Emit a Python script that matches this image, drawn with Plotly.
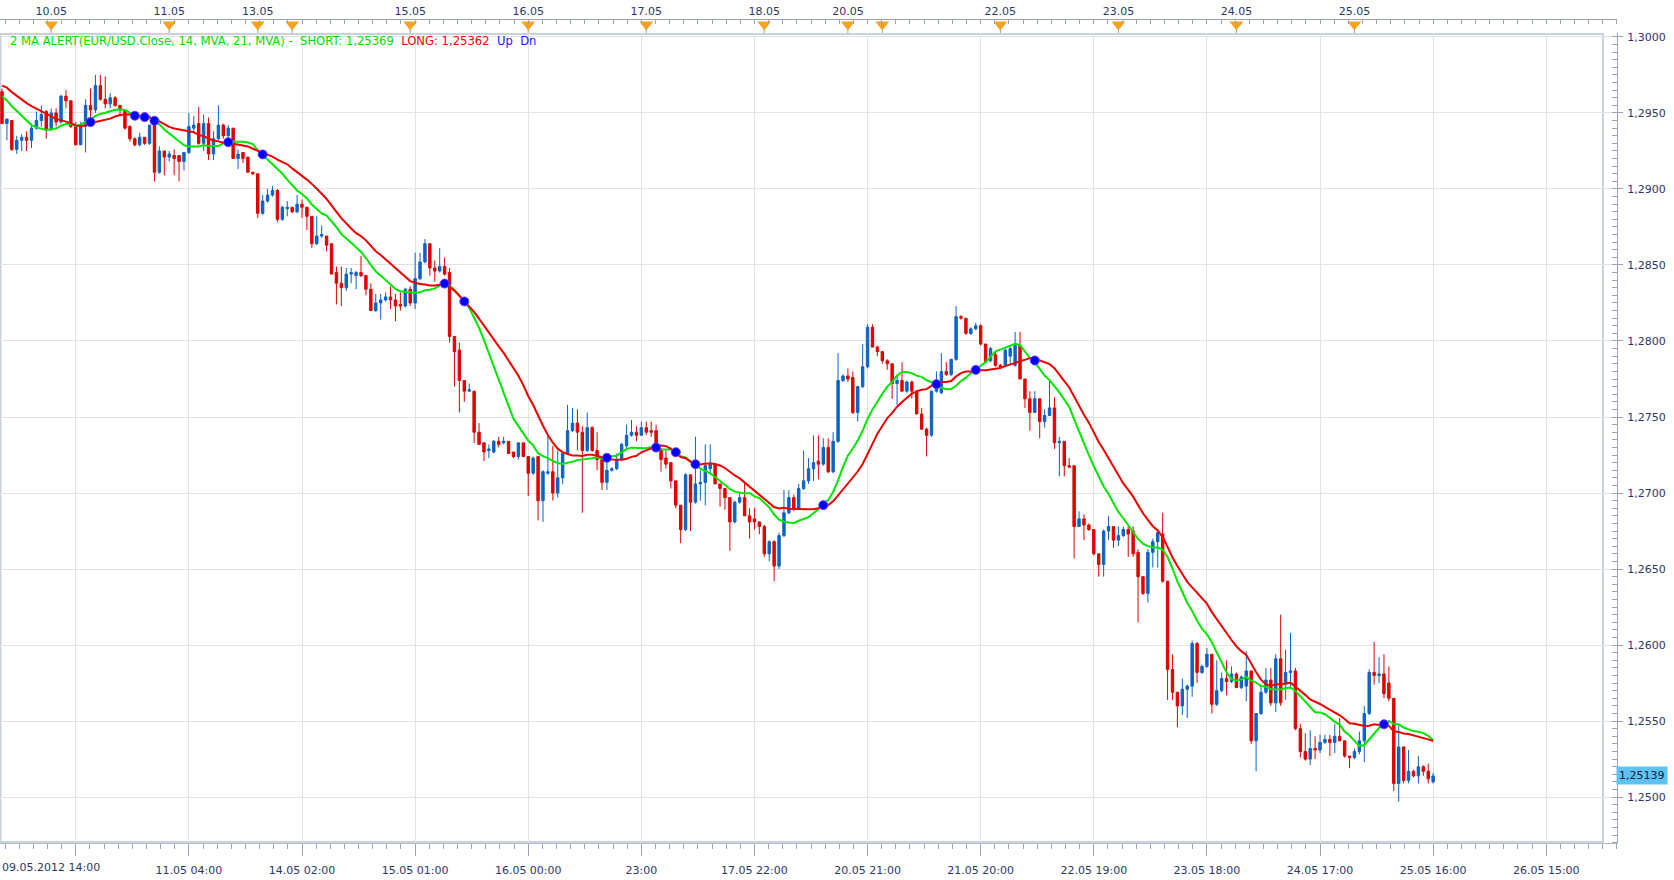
import pandas as pd
import plotly.graph_objects as go

# ---------------- data (EUR/USD hourly) ----------------
OPEN = [
 1.2964,1.2943,1.2945,1.2926,1.2932,1.2934,1.2932,1.2940,1.2945,1.2951,
 1.2939,1.2950,1.2944,1.2961,1.2958,1.2941,1.2929,1.2941,1.2955,1.2952,
 1.2968,1.2959,1.2956,1.2960,1.2955,1.2951,1.2941,1.2933,1.2929,1.2934,
 1.2930,1.2942,1.2911,1.2925,1.2921,1.2922,1.2922,1.2918,1.2924,1.2940,
 1.2943,1.2930,1.2943,1.2923,1.2933,1.2942,1.2935,1.2940,1.2920,1.2924,
 1.2921,1.2911,1.2910,1.2884,1.2892,1.2896,1.2899,1.2880,1.2887,1.2888,
 1.2885,1.2890,1.2888,1.2882,1.2864,1.2869,1.2869,1.2864,1.2845,1.2838,
 1.2835,1.2844,1.2843,1.2845,1.2843,1.2834,1.2820,1.2825,1.2827,1.2829,
 1.2827,1.2824,1.2823,1.2834,1.2825,1.2841,1.2852,1.2864,1.2848,1.2846,
 1.2849,1.2845,1.2803,1.2794,1.2774,1.2767,1.2767,1.2740,1.2733,1.2728,
 1.2727,1.2734,1.2733,1.2734,1.2727,1.2724,1.2733,1.2724,1.2713,1.2724,
 1.2695,1.2713,1.2714,1.2700,1.2710,1.2726,1.2741,1.2746,1.2740,1.2728,
 1.2743,1.2728,1.2722,1.2707,1.2715,1.2716,1.2722,1.2731,1.2738,1.2740,
 1.2738,1.2743,1.2741,1.2741,1.2729,1.2723,1.2720,1.2708,1.2692,1.2676,
 1.2712,1.2694,1.2706,1.2707,1.2716,1.2719,1.2706,1.2703,1.2697,1.2681,
 1.2694,1.2697,1.2685,1.2683,1.2681,1.2678,1.2660,1.2668,1.2652,1.2672,
 1.2687,1.2697,1.2690,1.2703,1.2708,1.2716,1.2721,1.2719,1.2730,1.2714,
 1.2734,1.2774,1.2777,1.2776,1.2753,1.2770,1.2783,1.2809,1.2796,1.2793,
 1.2787,1.2785,1.2772,1.2774,1.2767,1.2773,1.2767,1.2752,1.2742,1.2738,
 1.2767,1.2766,1.2780,1.2778,1.2788,1.2816,1.2815,1.2805,1.2808,1.2810,
 1.2798,1.2787,1.2791,1.2784,1.2784,1.2790,1.2784,1.2797,1.2775,1.2762,
 1.2753,1.2762,1.2747,1.2751,1.2756,1.2733,1.2734,1.2718,1.2718,1.2678,
 1.2683,1.2679,1.2676,1.2660,1.2653,1.2675,1.2678,1.2669,1.2672,1.2676,
 1.2675,1.2661,1.2645,1.2634,1.2661,1.2668,1.2673,1.2642,1.2584,1.2569,
 1.2560,1.2571,1.2573,1.2601,1.2582,1.2586,1.2594,1.2561,1.2570,1.2578,
 1.2576,1.2581,1.2572,1.2573,1.2583,1.2537,1.2555,1.2569,1.2577,1.2562,
 1.2591,1.2574,1.2582,1.2583,1.2545,1.2530,1.2525,1.2532,1.2531,1.2536,
 1.2538,1.2536,1.2540,1.2537,1.2527,1.2526,1.2530,1.2537,1.2555,1.2582,
 1.2580,1.2581,1.2575,1.2565,1.2509,1.2533,1.2511,1.2517,1.2514,1.2520,
 1.2517,1.2510,
]
HIGH = [
 1.2966,1.2946,1.2945,1.2935,1.2936,1.2938,1.2943,1.2951,1.2955,1.2952,
 1.2953,1.2953,1.2962,1.2965,1.2958,1.2944,1.2944,1.2959,1.2966,1.2975,
 1.2975,1.2974,1.2963,1.2961,1.2955,1.2952,1.2942,1.2934,1.2937,1.2934,
 1.2942,1.2942,1.2928,1.2925,1.2925,1.2926,1.2922,1.2924,1.2950,1.2948,
 1.2954,1.2949,1.2947,1.2938,1.2955,1.2943,1.2942,1.2940,1.2926,1.2924,
 1.2921,1.2911,1.2910,1.2896,1.2900,1.2902,1.2900,1.2889,1.2892,1.2888,
 1.2896,1.2893,1.2888,1.2882,1.2882,1.2876,1.2869,1.2864,1.2849,1.2849,
 1.2848,1.2848,1.2846,1.2856,1.2843,1.2838,1.2831,1.2831,1.2832,1.2836,
 1.2831,1.2832,1.2835,1.2836,1.2858,1.2858,1.2867,1.2864,1.2853,1.2861,
 1.2855,1.2848,1.2803,1.2799,1.2774,1.2772,1.2767,1.2746,1.2733,1.2732,
 1.2735,1.2737,1.2737,1.2734,1.2727,1.2733,1.2733,1.2724,1.2724,1.2724,
 1.2715,1.2738,1.2731,1.2728,1.2726,1.2758,1.2756,1.2755,1.2744,1.2753,
 1.2744,1.2740,1.2722,1.2722,1.2717,1.2726,1.2733,1.2745,1.2748,1.2744,
 1.2747,1.2747,1.2747,1.2745,1.2729,1.2728,1.2720,1.2708,1.2692,1.2713,
 1.2712,1.2737,1.2715,1.2732,1.2732,1.2719,1.2706,1.2703,1.2697,1.2695,
 1.2700,1.2707,1.2690,1.2690,1.2681,1.2679,1.2669,1.2669,1.2674,1.2702,
 1.2702,1.2699,1.2706,1.2728,1.2723,1.2738,1.2738,1.2736,1.2736,1.2740,
 1.2792,1.2778,1.2782,1.2780,1.2770,1.2798,1.2811,1.2811,1.2797,1.2793,
 1.2788,1.2785,1.2777,1.2786,1.2774,1.2774,1.2768,1.2756,1.2743,1.2767,
 1.2780,1.2792,1.2786,1.2788,1.2823,1.2817,1.2815,1.2809,1.2812,1.2811,
 1.2798,1.2796,1.2793,1.2785,1.2795,1.2797,1.2806,1.2806,1.2775,1.2767,
 1.2767,1.2762,1.2755,1.2775,1.2763,1.2737,1.2734,1.2723,1.2718,1.2688,
 1.2686,1.2680,1.2676,1.2660,1.2676,1.2685,1.2678,1.2678,1.2678,1.2678,
 1.2678,1.2663,1.2645,1.2663,1.2670,1.2676,1.2687,1.2642,1.2594,1.2569,
 1.2578,1.2574,1.2603,1.2602,1.2587,1.2598,1.2594,1.2590,1.2582,1.2590,
 1.2586,1.2582,1.2580,1.2596,1.2583,1.2555,1.2573,1.2585,1.2585,1.2594,
 1.2620,1.2597,1.2608,1.2585,1.2548,1.2542,1.2544,1.2540,1.2541,1.2541,
 1.2541,1.2548,1.2552,1.2537,1.2527,1.2532,1.2543,1.2560,1.2584,1.2602,
 1.2592,1.2594,1.2586,1.2565,1.2547,1.2533,1.2531,1.2518,1.2527,1.2521,
 1.2522,1.2516,
]
LOW = [
 1.2943,1.2932,1.2925,1.2923,1.2925,1.2925,1.2927,1.2939,1.2941,1.2933,
 1.2938,1.2941,1.2943,1.2953,1.2940,1.2929,1.2929,1.2924,1.2947,1.2950,
 1.2958,1.2953,1.2953,1.2954,1.2948,1.2939,1.2931,1.2928,1.2928,1.2929,
 1.2929,1.2905,1.2910,1.2909,1.2918,1.2909,1.2905,1.2912,1.2923,1.2938,
 1.2929,1.2925,1.2919,1.2919,1.2932,1.2933,1.2934,1.2920,1.2913,1.2917,
 1.2911,1.2909,1.2881,1.2883,1.2891,1.2895,1.2878,1.2879,1.2882,1.2884,
 1.2884,1.2881,1.2873,1.2861,1.2863,1.2868,1.2859,1.2844,1.2824,1.2823,
 1.2833,1.2838,1.2834,1.2842,1.2830,1.2820,1.2819,1.2814,1.2826,1.2821,
 1.2813,1.2820,1.2822,1.2823,1.2821,1.2840,1.2851,1.2843,1.2839,1.2845,
 1.2843,1.2799,1.2770,1.2753,1.2760,1.2767,1.2733,1.2732,1.2721,1.2723,
 1.2726,1.2730,1.2732,1.2726,1.2723,1.2722,1.2724,1.2698,1.2712,1.2682,
 1.2681,1.2712,1.2695,1.2697,1.2706,1.2725,1.2740,1.2728,1.2687,1.2727,
 1.2727,1.2715,1.2702,1.2702,1.2714,1.2715,1.2721,1.2729,1.2737,1.2734,
 1.2738,1.2738,1.2737,1.2728,1.2714,1.2716,1.2703,1.2690,1.2667,1.2675,
 1.2675,1.2693,1.2695,1.2692,1.2713,1.2706,1.2691,1.2689,1.2662,1.2680,
 1.2693,1.2685,1.2670,1.2676,1.2673,1.2658,1.2655,1.2642,1.2650,1.2671,
 1.2686,1.2688,1.2689,1.2702,1.2706,1.2708,1.2709,1.2718,1.2713,1.2713,
 1.2733,1.2773,1.2773,1.2752,1.2747,1.2769,1.2782,1.2796,1.2790,1.2785,
 1.2781,1.2762,1.2758,1.2767,1.2766,1.2762,1.2752,1.2742,1.2724,1.2737,
 1.2766,1.2765,1.2777,1.2777,1.2787,1.2814,1.2804,1.2804,1.2807,1.2797,
 1.2786,1.2786,1.2783,1.2783,1.2783,1.2784,1.2783,1.2775,1.2756,1.2741,
 1.2753,1.2736,1.2743,1.2751,1.2729,1.2711,1.2711,1.2717,1.2657,1.2678,
 1.2669,1.2675,1.2659,1.2645,1.2645,1.2669,1.2664,1.2665,1.2671,1.2658,
 1.2658,1.2615,1.2633,1.2628,1.2651,1.2651,1.2641,1.2564,1.2564,1.2546,
 1.2554,1.2552,1.2566,1.2575,1.2581,1.2585,1.2555,1.2560,1.2569,1.2567,
 1.2575,1.2572,1.2571,1.2563,1.2535,1.2517,1.2554,1.2568,1.2560,1.2556,
 1.2560,1.2564,1.2571,1.2544,1.2526,1.2524,1.2521,1.2525,1.2529,1.2535,
 1.2527,1.2529,1.2537,1.2526,1.2519,1.2525,1.2528,1.2523,1.2554,1.2574,
 1.2575,1.2565,1.2563,1.2504,1.2497,1.2509,1.2509,1.2513,1.2509,1.2514,
 1.2509,1.2509,
]
CLOSE = [
 1.2943,1.2946,1.2926,1.2932,1.2934,1.2932,1.2940,1.2945,1.2949,1.2939,
 1.2950,1.2944,1.2961,1.2958,1.2941,1.2929,1.2941,1.2955,1.2952,1.2968,
 1.2959,1.2956,1.2960,1.2955,1.2953,1.2940,1.2933,1.2929,1.2934,1.2930,
 1.2942,1.2911,1.2925,1.2921,1.2923,1.2920,1.2918,1.2924,1.2941,1.2942,
 1.2930,1.2943,1.2923,1.2933,1.2942,1.2935,1.2940,1.2920,1.2923,1.2920,
 1.2911,1.2910,1.2884,1.2892,1.2896,1.2899,1.2880,1.2888,1.2888,1.2885,
 1.2890,1.2888,1.2882,1.2864,1.2869,1.2870,1.2863,1.2844,1.2838,1.2835,
 1.2844,1.2845,1.2845,1.2843,1.2834,1.2820,1.2825,1.2827,1.2829,1.2827,
 1.2823,1.2823,1.2834,1.2825,1.2841,1.2852,1.2864,1.2848,1.2846,1.2849,
 1.2844,1.2803,1.2793,1.2774,1.2767,1.2768,1.2740,1.2732,1.2727,1.2729,
 1.2734,1.2732,1.2734,1.2726,1.2724,1.2733,1.2724,1.2713,1.2723,1.2695,
 1.2714,1.2714,1.2700,1.2710,1.2726,1.2741,1.2746,1.2740,1.2728,1.2743,
 1.2728,1.2722,1.2707,1.2715,1.2716,1.2722,1.2732,1.2738,1.2740,1.2738,
 1.2743,1.2740,1.2740,1.2728,1.2722,1.2719,1.2708,1.2692,1.2676,1.2712,
 1.2694,1.2706,1.2707,1.2718,1.2719,1.2706,1.2703,1.2697,1.2681,1.2694,
 1.2697,1.2685,1.2681,1.2681,1.2678,1.2660,1.2668,1.2652,1.2672,1.2687,
 1.2697,1.2690,1.2703,1.2708,1.2716,1.2720,1.2719,1.2730,1.2714,1.2734,
 1.2774,1.2777,1.2775,1.2753,1.2770,1.2783,1.2809,1.2796,1.2793,1.2787,
 1.2785,1.2772,1.2774,1.2767,1.2773,1.2767,1.2752,1.2742,1.2738,1.2767,
 1.2774,1.2780,1.2778,1.2788,1.2816,1.2815,1.2805,1.2808,1.2810,1.2798,
 1.2786,1.2795,1.2784,1.2783,1.2794,1.2795,1.2797,1.2775,1.2762,1.2753,
 1.2762,1.2747,1.2751,1.2756,1.2733,1.2734,1.2718,1.2717,1.2678,1.2683,
 1.2679,1.2676,1.2660,1.2653,1.2675,1.2678,1.2669,1.2672,1.2676,1.2673,
 1.2660,1.2645,1.2634,1.2661,1.2668,1.2674,1.2642,1.2584,1.2569,1.2560,
 1.2571,1.2573,1.2601,1.2582,1.2586,1.2594,1.2561,1.2570,1.2578,1.2576,
 1.2581,1.2572,1.2579,1.2583,1.2537,1.2555,1.2569,1.2577,1.2562,1.2591,
 1.2562,1.2582,1.2583,1.2545,1.2530,1.2525,1.2532,1.2531,1.2536,1.2538,
 1.2536,1.2540,1.2537,1.2527,1.2526,1.2530,1.2537,1.2555,1.2582,1.2580,
 1.2581,1.2568,1.2565,1.2509,1.2533,1.2511,1.2517,1.2514,1.2520,1.2517,
 1.2512,1.25139,
]
# closes of the 20 hours before the visible window (not drawn; estimated from
# where both moving averages start at the left edge)
PRE_WINDOW_CLOSE = [
 1.2975,1.2988,1.2984,1.2979,1.2986,1.2981,1.2981,
 1.2985,1.2980,1.2976,1.2982,1.2978,1.2975,
 1.2966,1.2960,1.2951,1.2944,1.2938,1.2935,1.2941,
]
SHORT_PERIOD = 14
LONG_PERIOD = 21
ALERT_BARS = [18, 27, 29, 31, 46, 53, 90, 94, 123, 133, 137, 141, 167, 190, 198, 210, 281]

BOTTOM_TICK_POS = [15, 38, 61, 84, 107, 130, 153, 176, 199, 222, 245, 268, 291, 314]
BOTTOM_TICK_TEXT = ["09.05.2012 14:00", "11.05 04:00", "14.05 02:00", "15.05 01:00",
                    "16.05 00:00", "23:00", "17.05 22:00", "20.05 21:00", "21.05 20:00",
                    "22.05 19:00", "23.05 18:00", "24.05 17:00", "25.05 16:00", "26.05 15:00"]
TOP_LABEL_POS = [10, 34, 52, 83, 107, 131, 155, 172, 203, 227, 251, 275]
TOP_LABEL_TEXT = ["10.05", "11.05", "13.05", "15.05", "16.05", "17.05", "18.05",
                  "20.05", "22.05", "23.05", "24.05", "25.05"]
DAY_START_POS = [10, 34, 52, 59, 83, 107, 131, 155, 172, 179, 203, 227, 251, 275]
LAST_PRICE_TEXT = "1,25139"
LEGEND_PARTS = [("2 MA ALERT(EUR/USD.Close, 14, MVA, 21, MVA) - &nbsp;SHORT: 1,25369", "#00dd00"),
                ("LONG: 1,25362", "#ff0000"), ("Up", "#1a1aff"), ("Dn", "#1a1aff")]

# ---------------- derived indicator ----------------
bars = list(range(len(CLOSE)))
series = pd.Series(PRE_WINDOW_CLOSE + CLOSE)
n_pre = len(PRE_WINDOW_CLOSE)
ma_short = series.rolling(SHORT_PERIOD).mean().iloc[n_pre:].tolist()
ma_long = series.rolling(LONG_PERIOD).mean().iloc[n_pre:].tolist()
alert_y = [(ma_short[i] + ma_long[i]) / 2 for i in ALERT_BARS]

# ---------------- styling ----------------
W, H = 1674, 880
ML, MR, MT, MB = 0, 57, 0, 37
PW, PH = W - ML - MR, H - MT - MB          # 1617 x 843
def px(x):
    return x / PW
def py(y):
    return (PH - y) / PH

BLUE = "#0b63c6"
RED = "#e00000"
TXT = "#2d3764"
AX = "#9ba4b6"
GRID = "#e2e2e2"
FONT = "DejaVu Sans"

fig = go.Figure()
fig.add_trace(go.Candlestick(
    x=bars, open=OPEN, high=HIGH, low=LOW, close=CLOSE,
    increasing=dict(line=dict(color=BLUE, width=1), fillcolor=BLUE),
    decreasing=dict(line=dict(color=RED, width=1), fillcolor=RED),
    whiskerwidth=0, showlegend=False, hoverinfo="skip"))
fig.add_trace(go.Scatter(x=bars, y=ma_short, mode="lines",
                         line=dict(color="#00e600", width=2), showlegend=False, hoverinfo="skip"))
fig.add_trace(go.Scatter(x=bars, y=ma_long, mode="lines",
                         line=dict(color="#ee0000", width=2), showlegend=False, hoverinfo="skip"))
fig.add_trace(go.Scatter(x=ALERT_BARS, y=alert_y, mode="markers",
                         marker=dict(color="#0000ff", size=9, line=dict(color="#6a3cff", width=1)),
                         showlegend=False, hoverinfo="skip"))

# top date strip: day-start markers
stem_x, stem_y = [], []
for d in DAY_START_POS:
    stem_x += [d, d, None]
    stem_y += [7, 13, None]
fig.add_trace(go.Scatter(x=stem_x, y=stem_y, mode="lines", xaxis="x2", yaxis="y2",
                         line=dict(color="#8f99ab", width=1), showlegend=False,
                         hoverinfo="skip", cliponaxis=False))
fig.add_trace(go.Scatter(x=DAY_START_POS, y=[4.5] * len(DAY_START_POS), mode="markers",
                         xaxis="x2", yaxis="y2",
                         marker=dict(symbol="triangle-down", size=12, color="#f6a21e",
                                     line=dict(width=0)),
                         showlegend=False, hoverinfo="skip", cliponaxis=False))

x_range = [-2 / 4.918, (PW - 2) / 4.918]
y_top_px, y_bot_px = 31, PH
main_top = py(y_top_px)

fig.update_layout(
    width=W, height=H, margin=dict(l=ML, r=MR, t=MT, b=MB),
    paper_bgcolor="white", plot_bgcolor="white",
    separators=",.", hovermode=False, showlegend=False, boxgap=0.3,
    font=dict(family=FONT, size=11, color=TXT),
    xaxis=dict(range=x_range, domain=[0, 1], anchor="y",
               tickmode="array", tickvals=BOTTOM_TICK_POS, ticktext=[""] + BOTTOM_TICK_TEXT[1:],
               ticks="outside", ticklen=12, tickcolor=AX, tickwidth=1,
               ticklabelstandoff=5,
               showgrid=True, gridcolor=GRID, gridwidth=1, zeroline=False,
               showline=True, linecolor="#b3bccb", linewidth=1,
               minor=dict(ticks="outside", ticklen=5, tick0=15, dtick=23 / 8,
                          tickcolor=AX, showgrid=False),
               rangeslider=dict(visible=False),
               tickfont=dict(family=FONT, size=11, color=TXT)),
    yaxis=dict(domain=[0, main_top], anchor="x", side="right",
               range=[1.3 - (y_bot_px - 35) / 15240, 1.3 + (35 - y_top_px) / 15240],
               tickmode="linear", tick0=1.25, dtick=0.005, tickformat=".4f",
               ticks="outside", ticklen=5, tickcolor=AX,
               ticklabelstandoff=2,
               showgrid=True, gridcolor=GRID, zeroline=False,
               showline=True, linecolor=AX, linewidth=1,
               minor=dict(ticks="inside", ticklen=5, dtick=0.0005, tickcolor=AX, showgrid=False),
               tickfont=dict(family=FONT, size=11, color=TXT)),
    xaxis2=dict(matches="x", anchor="y2", side="top", domain=[0, 1],
                tickmode="array", tickvals=TOP_LABEL_POS, ticktext=TOP_LABEL_TEXT,
                ticks="", showgrid=False, zeroline=False,
                showline=True, linecolor=AX, linewidth=1,
                ticklabelstandoff=0,
                minor=dict(ticks="inside", ticklen=4, tick0=15, dtick=23 / 8, tickcolor=AX),
                tickfont=dict(family=FONT, size=11, color=TXT)),
    yaxis2=dict(domain=[main_top, py(18)], anchor="x2", range=[13, 0],
                visible=False, showgrid=False, zeroline=False, fixedrange=True),
)

# plot frame and gap before the price scale
fig.add_shape(type="rect", xref="paper", yref="paper",
              x0=px(1604.5), x1=px(1616.5), y0=py(PH - 0.5), y1=py(y_top_px),
              fillcolor="white", line=dict(width=0), layer="between")
fig.add_shape(type="rect", xref="paper", yref="paper",
              x0=px(0.5), x1=px(1603), y0=py(PH - 1), y1=py(y_top_px + 1),
              line=dict(color="#c9d1dd", width=2), fillcolor="rgba(0,0,0,0)", layer="between")

# first bottom label, kept inside the page like the original
fig.add_annotation(xref="paper", yref="paper", x=0, y=py(868), xanchor="left", yanchor="middle",
                   text=BOTTOM_TICK_TEXT[0], showarrow=False,
                   font=dict(family=FONT, size=11, color=TXT))

# last-price badge on the price scale
fig.add_annotation(xref="paper", yref="y", x=px(1616), y=CLOSE[-1], xanchor="left",
                   yanchor="middle", text=LAST_PRICE_TEXT, showarrow=False,
                   bgcolor="#5ec3f3", borderpad=2,
                   font=dict(family=FONT, size=11, color="#10203a"))

# indicator legend line
legend_html = " &nbsp;".join(f'<span style="color:{c}">{t}</span>' for t, c in LEGEND_PARTS)
fig.add_annotation(xref="paper", yref="paper", x=px(8), y=py(39), xanchor="left",
                   yanchor="middle", text=legend_html, showarrow=False,
                   font=dict(family=FONT, size=11.6))

fig.write_html("out.html")
